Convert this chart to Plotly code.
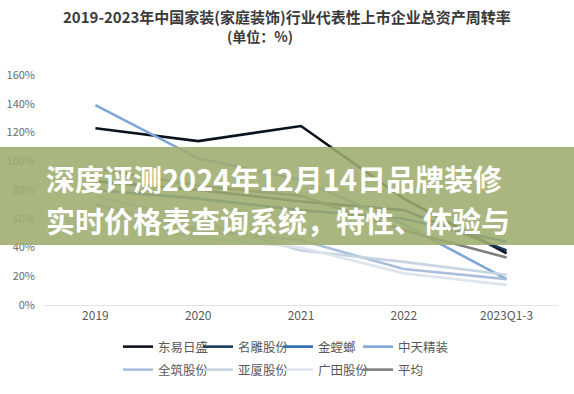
import plotly.graph_objects as go

categories = ["2019", "2020", "2021", "2022", "2023Q1-3"]
series_names = ["东易日盛", "名雕股份", "金螳螂", "中天精装", "全筑股份", "亚厦股份", "广田股份", "平均"]
dongyi = [123, 114, 124.5, 74, 36]
mingdiao = [86, 80, 72, 66, 38]
jintanglang = [80, 74, 66, 60, 44]
zhongtian = [139, 102, 87, 56, 18]
quanzhu = [70, 52, 45, 25, 18]
yasha = [76, 58, 38, 30, 21]
guangtian = [64, 47, 40, 22, 14]
average = [95, 83, 76, 52, 33]
series_values = [dongyi, mingdiao, jintanglang, zhongtian, quanzhu, yasha, guangtian, average]
colors = ["#0b1320", "#1c3a5e", "#2b6cb0", "#7ea7d8", "#a9bfdc", "#c8d4e3", "#dfe5ec", "#7f7f7f"]
y_ticks = [0, 20, 40, 60, 80, 100, 120, 140, 160]
title_line1 = "2019-2023年中国家装(家庭装饰)行业代表性上市企业总资产周转率"
title_line2 = "(单位：%)"
overlay_line1 = "深度评测2024年12月14日品牌装修"
overlay_line2 = "实时价格表查询系统，特性、体验与"

W, H = 574, 394
ml, mr, mt, mb = 44, 16, 75, 89
pw, ph = W - ml - mr, H - mt - mb

def px_x(x):
    return (x - ml) / pw

def px_y(y):
    return (H - mb - y) / ph

fig = go.Figure()
legend_layout = {}
for i, (name, vals, col) in enumerate(zip(series_names, series_values, colors)):
    key = "legend" if i == 0 else f"legend{i + 1}"
    fig.add_trace(go.Scatter(x=categories, y=vals, name=name, mode="lines",
                             line=dict(color=col, width=2.6), legend=key))
    row, colnum = divmod(i, 4)
    legend_layout[key] = dict(x=px_x(118 + 80 * colnum), y=px_y(347 + 23 * row),
                              xanchor="left", yanchor="middle", orientation="h",
                              font=dict(size=12.5, color="#595959"), itemwidth=30,
                              bgcolor="rgba(0,0,0,0)")

fig.update_layout(
    width=W, height=H,
    margin=dict(l=ml, r=mr, t=mt, b=mb, autoexpand=False),
    paper_bgcolor="white", plot_bgcolor="white",
    font=dict(family="Noto Sans CJK SC, Noto Sans, sans-serif", color="#595959"),
    showlegend=True,
    xaxis=dict(type="category", range=[-0.5, 4.5], showgrid=False, zeroline=False,
               showline=True, linecolor="#e3e3e3", linewidth=1, ticks="",
               tickfont=dict(size=12, color="#595959")),
    yaxis=dict(range=[0, 160], tickvals=y_ticks, ticktext=[f"{v}%" for v in y_ticks],
               showgrid=False, zeroline=False, showline=False, ticks="",
               tickfont=dict(size=11, color="#6a6a6a"), ticklabelstandoff=8),
    **legend_layout,
)

# translucent overlay band
fig.add_shape(type="rect", xref="paper", yref="paper",
              x0=px_x(-5), x1=px_x(W + 5), y0=px_y(245), y1=px_y(147),
              fillcolor="rgba(158,172,110,0.88)", line=dict(width=0), layer="above")

fig.add_annotation(xref="paper", yref="paper", x=px_x(287), y=px_y(16.5), text="<b>" + title_line1 + "</b>",
                   showarrow=False, font=dict(size=15, color="#3a3a3a"), xanchor="center", yanchor="middle",
                   borderpad=0)
fig.add_annotation(xref="paper", yref="paper", x=px_x(260), y=px_y(35.5), text="<b>" + title_line2 + "</b>",
                   showarrow=False, font=dict(size=14, color="#3a3a3a"), xanchor="center", yanchor="middle",
                   borderpad=0)
fig.add_annotation(xref="paper", yref="paper", x=px_x(44), y=px_y(178), text="<b>" + overlay_line1 + "</b>",
                   showarrow=False, font=dict(size=29, color="white"), xanchor="left", yanchor="middle")
fig.add_annotation(xref="paper", yref="paper", x=px_x(44), y=px_y(220), text="<b>" + overlay_line2 + "</b>",
                   showarrow=False, font=dict(size=29, color="white"), xanchor="left", yanchor="middle")

fig.write_html("out.html", config={"displayModeBar": False},
               post_script="document.body.style.margin='0';")
